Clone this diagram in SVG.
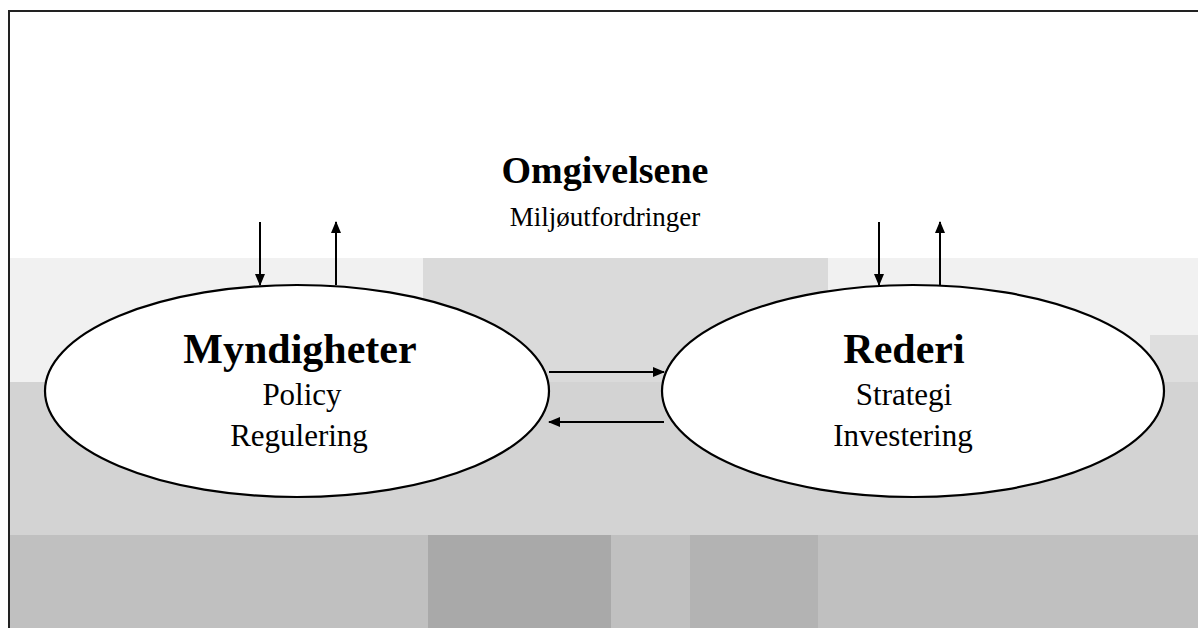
<svg xmlns="http://www.w3.org/2000/svg" width="1198" height="628" viewBox="0 0 1198 628">
<style>
.t{font-family:"Liberation Serif","Times New Roman",serif;fill:#000;text-anchor:middle}
.b{font-weight:bold}
.node ellipse{fill:#fff;stroke:#000;stroke-width:2.2}
.conn line{stroke:#000;stroke-width:2}
</style>
<defs>
<marker id="ah" viewBox="0 0 12 10" refX="11" refY="5" markerWidth="12" markerHeight="10" markerUnits="userSpaceOnUse" orient="auto">
<path d="M0,0 L12,5 L0,10 Z" fill="#000"/>
</marker>
</defs>
<rect x="0" y="0" width="1198" height="628" fill="#fff"/>
<g id="background">
<rect x="10" y="258" width="1188" height="124" fill="#f1f1f1"/>
<rect x="423" y="258" width="405" height="124" fill="#dadada"/>
<rect x="1150" y="335" width="48" height="47" fill="#dedede"/>
<rect x="10" y="382" width="1188" height="153" fill="#d3d3d3"/>
<rect x="10" y="535" width="1188" height="93" fill="#c0c0c0"/>
<rect x="428" y="535" width="183" height="93" fill="#a9a9a9"/>
<rect x="690" y="535" width="128" height="93" fill="#b3b3b3"/>
</g>
<rect x="9" y="11" width="1200" height="640" fill="none" stroke="#222" stroke-width="2"/>
<g id="omgivelsene">
<text class="t b" x="605" y="183" font-size="38">Omgivelsene</text>
<text class="t" x="605" y="226" font-size="27">Miljøutfordringer</text>
</g>
<g id="myndigheter" class="node">
<ellipse cx="297" cy="391" rx="252" ry="106"/>
<text class="t b" x="300" y="363" font-size="42">Myndigheter</text>
<text class="t" x="302" y="405" font-size="31">Policy</text>
<text class="t" x="299" y="446" font-size="31">Regulering</text>
</g>
<g id="rederi" class="node">
<ellipse cx="913" cy="391" rx="251" ry="106"/>
<text class="t b" x="904" y="363" font-size="42">Rederi</text>
<text class="t" x="904" y="405" font-size="31">Strategi</text>
<text class="t" x="903" y="446" font-size="31">Investering</text>
</g>
<g id="connectors" class="conn">
<line x1="260" y1="222" x2="260" y2="285" marker-end="url(#ah)"/>
<line x1="336" y1="285" x2="336" y2="222" marker-end="url(#ah)"/>
<line x1="879" y1="222" x2="879" y2="285" marker-end="url(#ah)"/>
<line x1="940" y1="285" x2="940" y2="222" marker-end="url(#ah)"/>
<line x1="549" y1="372" x2="664" y2="372" marker-end="url(#ah)"/>
<line x1="664" y1="422" x2="549" y2="422" marker-end="url(#ah)"/>
</g>
</svg>
